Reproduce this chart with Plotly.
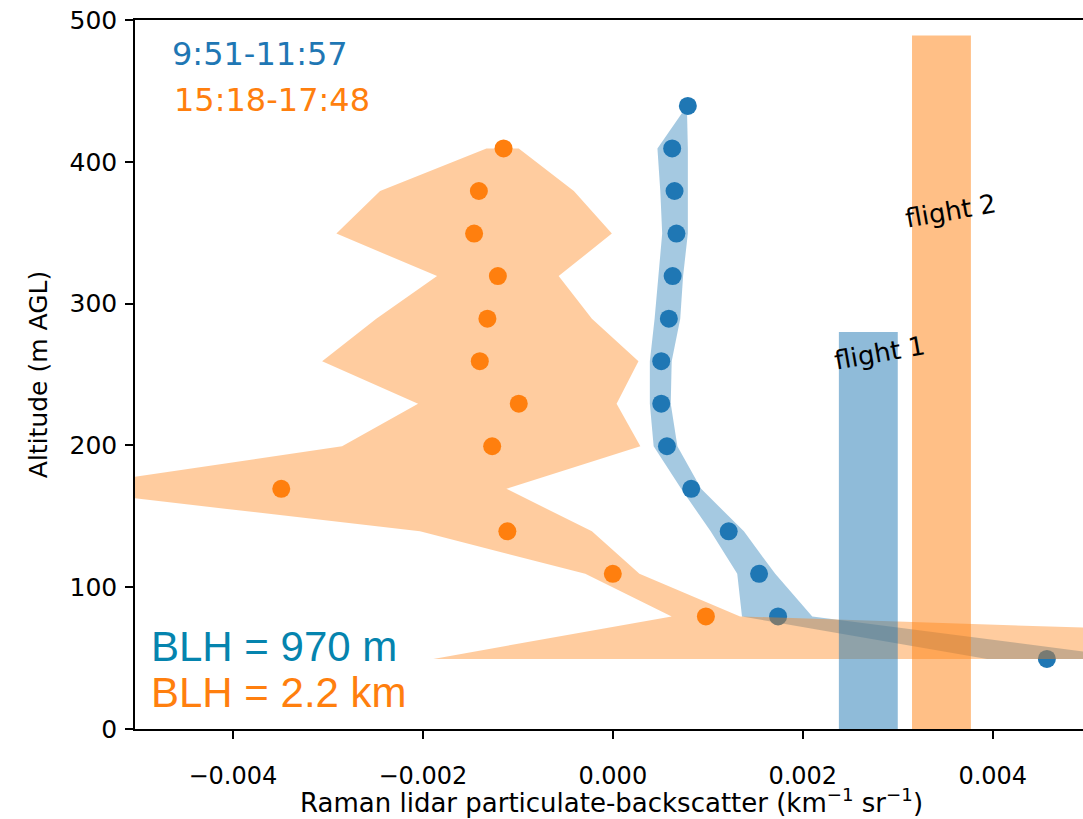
import plotly.graph_objects as go

# ---------------- data ----------------
alt_blue = [49.4, 79.4, 109.4, 139.4, 169.4, 199.4, 229.4, 259.4, 289.4, 319.4, 349.4, 379.4, 409.4, 439.4]
blue_x = [0.00457, 0.00174, 0.00154, 0.00122, 0.000825, 0.00057, 0.00051, 0.00051, 0.00059, 0.00063, 0.00067, 0.00065, 0.000625, 0.00079]
blue_lo = [0.00394, 0.00136, 0.00131, 0.00103, 0.00072, 0.00043, 0.00039, 0.00039, 0.00044, 0.00048, 0.00052, 0.00050, 0.00047, 0.00078]
blue_hi = [0.00556, 0.00210, 0.00171, 0.00138, 0.00093, 0.00068, 0.00061, 0.00062, 0.00071, 0.00074, 0.00079, 0.00079, 0.00079, 0.00078]

alt_orange = [49.4, 79.4, 109.4, 139.4, 169.4, 199.4, 229.4, 259.4, 289.4, 319.4, 349.4, 379.4, 409.4]
orange_x = [0.0066, 0.00098, 0.0, -0.00111, -0.00349, -0.00127, -0.00099, -0.00140, -0.00132, -0.00121, -0.00146, -0.00141, -0.00115]
orange_lo = [-0.00189, 0.00062, -0.00029, -0.00203, -0.00590, -0.00285, -0.00205, -0.00306, -0.00249, -0.00185, -0.00291, -0.00245, -0.00133]
orange_hi = [0.01510, 0.00134, 0.00028, -0.00022, -0.00112, 0.00029, 0.00004, 0.00027, -0.00022, -0.00057, -0.00001, -0.00041, -0.00099]

flight_names = ["flight 1", "flight 2"]
flight_lo = [0.00238, 0.00315]
flight_hi = [0.00300, 0.00377]
flight_top = [280, 489]
flight_label_x = [0.00281, 0.00356]
flight_label_y = [265, 365]

x_tickvals = [-0.004, -0.002, 0.0, 0.002, 0.004]
x_ticktext = ["\u22120.004", "\u22120.002", "0.000", "0.002", "0.004"]
y_tickvals = [0, 100, 200, 300, 400, 500]

x_title = "Raman lidar particulate-backscatter (km<sup>\u22121</sup> sr<sup>\u22121</sup>)"
y_title = "Altitude (m AGL)"

BLUE = "#1f77b4"
ORANGE = "#ff7f0e"

fig = go.Figure()

# blue band
fig.add_trace(go.Scatter(
    x=blue_lo + blue_hi[::-1], y=alt_blue + alt_blue[::-1],
    fill="toself", fillcolor="rgba(31,119,180,0.4)", line=dict(width=0),
    mode="lines", hoverinfo="skip"))
fig.add_trace(go.Scatter(
    x=blue_x, y=alt_blue, mode="markers",
    marker=dict(color=BLUE, size=18)))

# orange band
fig.add_trace(go.Scatter(
    x=orange_lo + orange_hi[::-1], y=alt_orange + alt_orange[::-1],
    fill="toself", fillcolor="rgba(255,127,14,0.4)", line=dict(width=0),
    mode="lines", hoverinfo="skip"))
fig.add_trace(go.Scatter(
    x=orange_x, y=alt_orange, mode="markers",
    marker=dict(color=ORANGE, size=18)))

# flight bars
flight_fill = ["rgba(31,119,180,0.5)", "rgba(255,127,14,0.5)"]
for i in range(len(flight_names)):
    fig.add_trace(go.Scatter(
        x=[flight_lo[i], flight_hi[i], flight_hi[i], flight_lo[i], flight_lo[i]],
        y=[0, 0, flight_top[i], flight_top[i], 0],
        fill="toself", fillcolor=flight_fill[i], line=dict(width=0),
        mode="lines", hoverinfo="skip"))
    fig.add_annotation(x=flight_label_x[i], y=flight_label_y[i], text=flight_names[i],
                       showarrow=False, textangle=-10,
                       font=dict(family="DejaVu Sans", size=26, color="black"))

# time labels
fig.add_annotation(x=-0.00466, y=476, text="9:51-11:57", showarrow=False,
                   xanchor="left", yanchor="middle",
                   font=dict(family="DejaVu Sans", size=32, color=BLUE))
fig.add_annotation(x=-0.00464, y=443.6, text="15:18-17:48", showarrow=False,
                   xanchor="left", yanchor="middle",
                   font=dict(family="DejaVu Sans", size=32, color=ORANGE))

# BLH labels
fig.add_annotation(x=-0.00488, y=58.5, text="BLH = 970 m", showarrow=False,
                   xanchor="left", yanchor="middle",
                   font=dict(family="Liberation Sans, Arial", size=42, color="#0584ae"))
fig.add_annotation(x=-0.00488, y=25.4, text="BLH = 2.2 km", showarrow=False,
                   xanchor="left", yanchor="middle",
                   font=dict(family="Liberation Sans, Arial", size=42, color=ORANGE))

# x axis title (placed as annotation below tick labels)
fig.add_annotation(x=0.5026, y=-0.1015, xref="paper", yref="paper", text=x_title,
                   showarrow=False, xanchor="center", yanchor="middle",
                   font=dict(family="DejaVu Sans", size=26, color="black"))

fig.update_layout(
    width=1083, height=819,
    margin=dict(l=135, r=0, t=20, b=90),
    paper_bgcolor="white", plot_bgcolor="white",
    showlegend=False,
    font=dict(family="DejaVu Sans", color="black"),
    xaxis=dict(
        range=[-0.00503, 0.00495],
        tickvals=x_tickvals, ticktext=x_ticktext,
        ticks="outside", ticklen=8, tickwidth=1.5, tickcolor="black",
        ticklabelstandoff=16,
        showline=True, linecolor="black", linewidth=1.5, mirror=True,
        showgrid=False, zeroline=False, automargin=False,
        tickfont=dict(size=24, color="black"),
    ),
    yaxis=dict(
        range=[0, 500],
        tickvals=y_tickvals,
        ticks="outside", ticklen=8, tickwidth=1.5, tickcolor="black",
        ticklabelstandoff=3,
        showline=True, linecolor="black", linewidth=1.5, mirror=False,
        showgrid=False, zeroline=False, automargin=False,
        tickfont=dict(size=25, color="black"),
        title=dict(text=y_title, font=dict(size=25, color="black"), standoff=15),
    ),
)

fig.write_html("out.html", config={"displayModeBar": False},
               post_script="document.body.style.margin='0';")
